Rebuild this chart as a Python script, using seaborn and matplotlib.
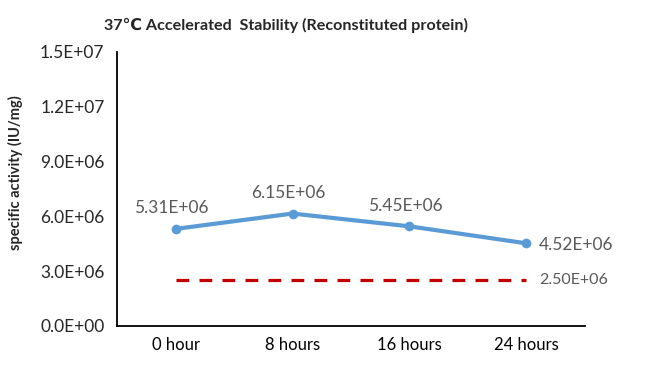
import matplotlib
matplotlib.use("Agg")
import matplotlib.pyplot as plt
import matplotlib.ticker as ticker
import pandas as pd
import seaborn as sns

timepoints = ["0 hour", "8 hours", "16 hours", "24 hours"]
activity = [5.31e6, 6.15e6, 5.45e6, 4.52e6]
spec_limit = [2.5e6, 2.5e6, 2.5e6, 2.5e6]
y_ticks = [0, 3e6, 6e6, 9e6, 1.2e7, 1.5e7]

df = pd.DataFrame({"time": timepoints, "activity": activity, "limit": spec_limit})
df["pos"] = range(len(df))

sns.set_style("white")
plt.rcParams["font.family"] = ["Lato", "DejaVu Sans"]

fig = plt.figure(figsize=(6.5, 3.65), dpi=100)
ax = fig.add_axes([0.18, 0.107, 0.72, 0.751])

sns.lineplot(data=df, x="pos", y="limit", color="#C00000", lw=2.3,
             linestyle=(0, (4.0, 3.2)), ax=ax)
sns.lineplot(data=df, x="pos", y="activity", color="#5B9BD5", lw=3,
             marker="o", markersize=7, markeredgewidth=0, ax=ax)

lab_color = "#595959"
for i, v in enumerate(activity):
    if i == len(activity) - 1:
        ax.annotate(f"{v:.2E}", (i, v), xytext=(9, -1), textcoords="offset points",
                    ha="left", va="center", fontsize=12.5, color=lab_color)
    else:
        ax.annotate(f"{v:.2E}", (i, v), xytext=(-3, 9), textcoords="offset points",
                    ha="center", va="bottom", fontsize=12.5, color=lab_color)
ax.annotate(f"{spec_limit[-1]:.2E}", (len(spec_limit) - 1, spec_limit[-1]),
            xytext=(9, 0), textcoords="offset points", ha="left", va="center",
            fontsize=11.5, color=lab_color)

ax.set_xlim(-0.5, len(timepoints) - 0.5)
ax.set_ylim(0, 1.5e7)
ax.set_yticks(y_ticks)
ax.yaxis.set_major_formatter(ticker.FuncFormatter(lambda v, p: f"{v:.1E}"))

ax.set_xticks([i - 0.5 for i in range(len(timepoints) + 1)])
ax.set_xticklabels([])
ax.set_xticks(list(range(len(timepoints))), minor=True)
ax.set_xticklabels(timepoints, minor=True)
ax.tick_params(axis="x", which="minor", length=0, pad=8, labelsize=12, colors="#000000")
ax.tick_params(axis="x", which="major", direction="out", length=5, width=1.2, color="black")
ax.tick_params(axis="y", direction="out", length=5, width=1.2, color="black",
               labelsize=12.5, pad=4)
for lbl in ax.get_yticklabels():
    lbl.set_color("#262626")

sns.despine(ax=ax)
for s in ["left", "bottom"]:
    ax.spines[s].set_color("black")
    ax.spines[s].set_linewidth(1.3)

ax.set_xlabel("")
ax.set_ylabel("specific activity (IU/mg)", fontsize=10.5, fontweight="bold")
ax.yaxis.set_label_coords(-0.2, 0.56)
fig.text(0.44, 0.93, "37℃ Accelerated  Stability (Reconstituted protein)",
         ha="center", va="center", fontsize=11.6, fontweight="bold")

fig.savefig("out.png", dpi=100)
